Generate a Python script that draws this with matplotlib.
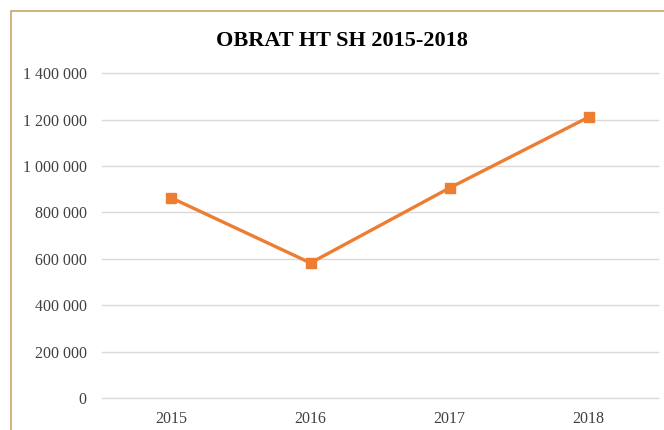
import matplotlib
matplotlib.use("Agg")
import matplotlib.pyplot as plt
from matplotlib.patches import Rectangle

years = ["2015", "2016", "2017", "2018"]
values = [862000, 582000, 905000, 1210000]
yticks = [0, 200000, 400000, 600000, 800000, 1000000, 1200000, 1400000]
ytick_labels = ["0", "200 000", "400 000", "600 000", "800 000", "1 000 000", "1 200 000", "1 400 000"]
title = "OBRAT HT SH 2015-2018"

plt.rcParams['font.family'] = ['Liberation Serif', 'DejaVu Serif']

fig = plt.figure(figsize=(6.64, 4.30), dpi=100)
fig.patch.set_facecolor('white')
ax = fig.add_axes([0.1536, 0.0744, 0.8374, 0.7556])

x = list(range(len(years)))
ax.plot(x, values, color='#ED7D31', linewidth=2.4, marker='s', markersize=7.5,
        markerfacecolor='#ED7D31', markeredgecolor='#ED7D31', zorder=3)

ax.set_xlim(-0.5, len(years) - 0.5)
ax.set_ylim(0, 1400000)
ax.set_yticks(yticks)
ax.set_yticklabels(ytick_labels)
ax.set_xticks(x)
ax.set_xticklabels(years)
ax.grid(axis='y', color='#D9D9D9', linewidth=1.0)
for gl in ax.get_ygridlines():
    gl.set_clip_on(False)
ax.set_axisbelow(True)
for s in ax.spines.values():
    s.set_visible(False)
ax.tick_params(axis='both', length=0, labelsize=11.5, colors='#404040', pad=11)
ax.tick_params(axis='x', pad=9)

fig.text(0.515, 0.905, title, ha='center', va='center', fontsize=16, fontweight='bold', color='#000000')

fig.patches.append(Rectangle((11/664, -0.1), 1.2, 1 - 11/430 + 0.1, transform=fig.transFigure,
                             fill=False, edgecolor='#C9A46A', linewidth=1.2, figure=fig))

fig.savefig('out.png', dpi=100, facecolor='white')
